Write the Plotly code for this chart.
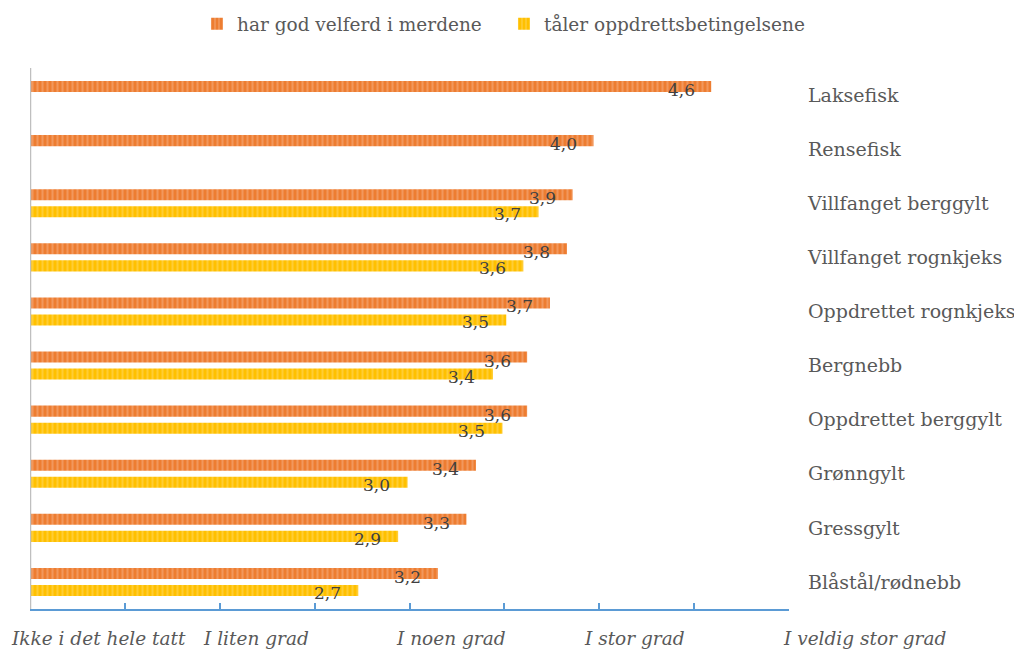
import plotly.graph_objects as go

categories = ["Laksefisk", "Rensefisk", "Villfanget berggylt", "Villfanget rognkjeks",
              "Oppdrettet rognkjeks", "Bergnebb", "Oppdrettet berggylt", "Grønngylt",
              "Gressgylt", "Blåstål/rødnebb"]
velferd = [4.59, 3.97, 3.86, 3.83, 3.74, 3.62, 3.62, 3.35, 3.30, 3.15]
velferd_labels = ["4,6", "4,0", "3,9", "3,8", "3,7", "3,6", "3,6", "3,4", "3,3", "3,2"]
taler = [None, None, 3.68, 3.60, 3.51, 3.44, 3.49, 2.99, 2.94, 2.73]
taler_labels = [None, None, "3,7", "3,6", "3,5", "3,4", "3,5", "3,0", "2,9", "2,7"]
series_names = ["har god velferd i merdene", "tåler oppdrettsbetingelsene"]
scale_labels = ["Ikke i det hele tatt", "I liten grad", "I noen grad", "I stor grad", "I veldig stor grad"]
scale_label_pos = [0.0896, 0.2978, 0.5547, 0.7958, 1.100]  # paper fractions
tick_vals = [1, 1.5, 2, 2.5, 3, 3.5, 4, 4.5, 5]

FONT = "DejaVu Serif"
GRAY = "#595959"

fig = go.Figure()
fig.add_trace(go.Bar(
    y=categories, x=velferd, orientation="h", name=series_names[0],
    marker=dict(color="#ED7D31", line=dict(width=0),
                pattern=dict(shape="|", fgcolor="#F6B48A", bgcolor="#ED7D31", size=5, solidity=0.4)),
))
fig.add_trace(go.Bar(
    y=categories, x=taler, orientation="h", name=series_names[1],
    marker=dict(color="#FFC000", line=dict(width=0),
                pattern=dict(shape="|", fgcolor="#FFDA6A", bgcolor="#FFC000", size=5, solidity=0.4)),
))

annotations = []
for cat, v, lab in zip(categories, velferd, velferd_labels):
    annotations.append(dict(x=v, y=cat, xref="x", yref="y", text=lab, showarrow=False,
                            xanchor="center", yanchor="middle", xshift=-30, yshift=5,
                            font=dict(family=FONT, size=17, color="#404040")))
for cat, v, lab in zip(categories, taler, taler_labels):
    if v is None:
        continue
    annotations.append(dict(x=v, y=cat, xref="x", yref="y", text=lab, showarrow=False,
                            xanchor="center", yanchor="middle", xshift=-31, yshift=-11,
                            font=dict(family=FONT, size=17, color="#404040")))
for lab, pos in zip(scale_labels, scale_label_pos):
    annotations.append(dict(x=pos, y=0, xref="paper", yref="paper", text="<i>" + lab + "</i>",
                            showarrow=False, xanchor="center", yanchor="middle", yshift=-29,
                            font=dict(family=FONT, size=18.5, color=GRAY)))

fig.update_layout(
    width=1014, height=652,
    margin=dict(l=30, r=225, t=68, b=43, autoexpand=False),
    paper_bgcolor="white", plot_bgcolor="white",
    barmode="group", bargap=0.37, bargroupgap=0.35,
    font=dict(family=FONT, color=GRAY),
    showlegend=True,
    legend=dict(orientation="h", x=0.22, xanchor="left", y=1.081, yanchor="middle",
                font=dict(family=FONT, size=18.5, color=GRAY), entrywidth=262,
                itemwidth=30, bgcolor="rgba(0,0,0,0)"),
    xaxis=dict(range=[1, 5], tickvals=tick_vals, showticklabels=False, showgrid=False,
               zeroline=False, showline=True, linecolor="#5B9BD5", linewidth=2,
               ticks="inside", ticklen=6, tickwidth=2, tickcolor="#5B9BD5"),
    yaxis=dict(side="right", autorange="reversed", showgrid=False, zeroline=False,
               showline=False, ticks="", ticklabelstandoff=18, automargin=False,
               tickfont=dict(family=FONT, size=19, color=GRAY)),
    annotations=annotations,
    shapes=[dict(type="line", xref="x", yref="paper", x0=1, x1=1, y0=0, y1=1,
                 line=dict(color="#BFBFBF", width=2.5))],
)

fig.write_html("out.html", config={"displayModeBar": False},
               post_script="document.body.style.margin='0';")
